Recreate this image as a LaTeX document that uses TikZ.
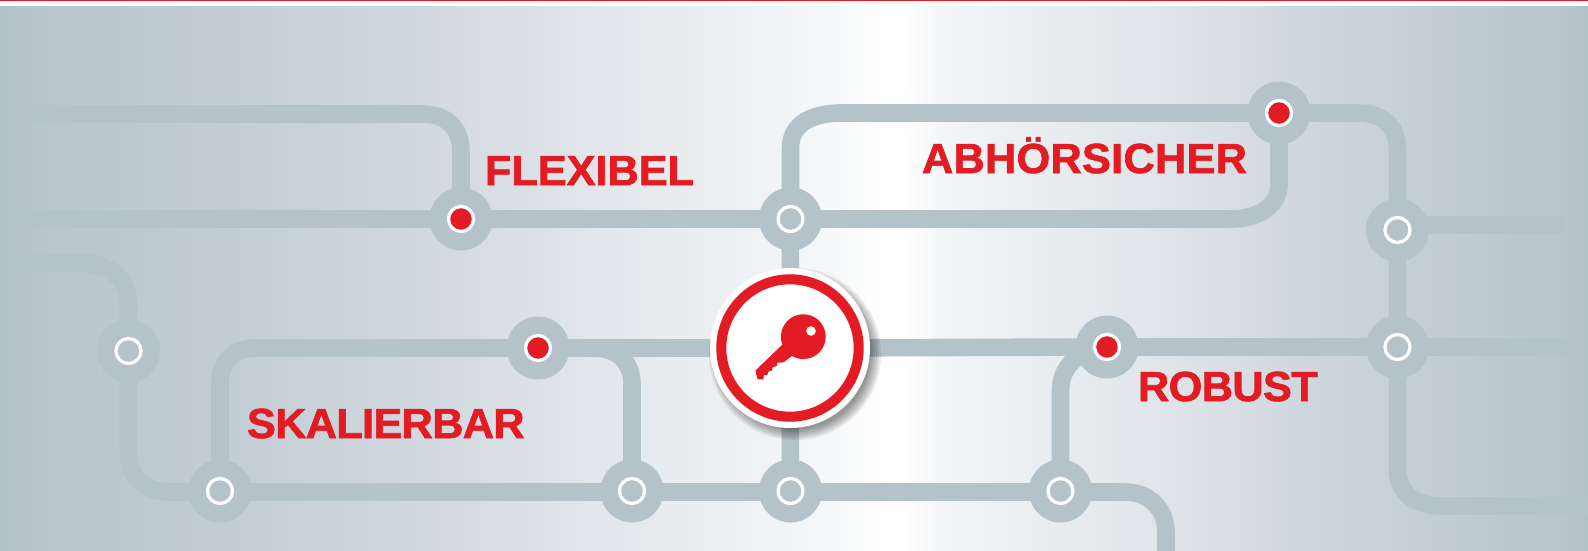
\documentclass[tikz,border=0pt]{standalone}
\usepackage{fontspec}
\usetikzlibrary{calc}
\newfontfamily\labfont{Liberation Sans}[BoldFeatures={FakeBold=1.6,FakeStretch=1.03}]
\definecolor{rail}{HTML}{B4C2CA}
\definecolor{signal}{HTML}{E31B23}
\pgfdeclarehorizontalshading{bgshade}{100bp}{%
 rgb(0bp)=(.702,.757,.788);
 rgb(25bp)=(.702,.757,.788);
 rgb(26.9bp)=(.725,.776,.804);
 rgb(32.9bp)=(.769,.808,.839);
 rgb(39.2bp)=(.827,.859,.882);
 rgb(46.4bp)=(.914,.929,.941);
 rgb(50.3bp)=(.953,.961,.969);
 rgb(52.9bp)=(1,1,1);
 rgb(53.5bp)=(1,1,1);
 rgb(54.6bp)=(.953,.961,.969);
 rgb(62.8bp)=(.859,.886,.902);
 rgb(66bp)=(.812,.843,.871);
 rgb(70.7bp)=(.757,.8,.827);
 rgb(74.3bp)=(.718,.769,.8);
 rgb(75bp)=(.698,.753,.784);
 rgb(100bp)=(.698,.753,.784)}
\tikzset{
 railline/.style={draw=rail,line width=17.6pt,line cap=butt,line join=round},
 hub/.style={circle,fill=rail,inner sep=0pt,outer sep=0pt,minimum size=63pt},
 ringopen/.style={circle,draw=white,line width=3.3pt,fill=none,inner sep=0pt,outer sep=0pt,minimum size=25pt},
 ringred/.style={ringopen,fill=signal},
 caption/.style={anchor=base west,inner sep=0pt,outer sep=0pt,text=signal,font=\labfont\bfseries\fontsize{42pt}{42pt}\selectfont},
 keydisc/.style={circle,fill=white,inner sep=0pt,outer sep=0pt,minimum size=160pt},
 keyring/.style={circle,draw=signal,line width=10pt,fill=white,inner sep=0pt,outer sep=0pt,minimum size=137.4pt}
}
\begin{document}
\begin{tikzpicture}[x=1pt,y=-1pt]
\useasboundingbox (0,0) rectangle (1588,551);
\fill[white] (0,0) rectangle (1588,7);
\fill[signal] (0,0) rectangle (1588,1);
\shade[shading=bgshade] (0,7) rectangle (1588,551);
% named positions
\coordinate (k) at (790,348);
\coordinate (n1) at (461,219);
\coordinate (n2) at (790.5,219);
\coordinate (n3) at (1279,113);
\coordinate (n4) at (1397.5,230);
\coordinate (n5) at (1397.5,347);
\coordinate (m1) at (128.5,351);
\coordinate (m2) at (538,348);
\coordinate (m3) at (1107,347);
\coordinate (b1) at (220,491);
\coordinate (b2) at (632,491);
\coordinate (b3) at (790.5,491);
\coordinate (b4) at (1060.5,491);
\coordinate (e1) at (10,114);
\coordinate (e2) at (10,219);
\coordinate (e3) at (10,263);
\coordinate (e4) at (1566,225);
\coordinate (e5) at (1569,347);
\coordinate (e6) at (1588,506);
\coordinate (e7) at (1166,551);
% rails
\draw[railline] (e1) -- (422,114) .. controls (447,114) and (461,128) .. (461,152) -- (n1);
\draw[railline] (e2) -- (n1) -- (n2) -- (1232,219) .. controls (1256,219) and (1279,207) .. (1279,185) -- (n3);
\draw[railline] (n2) -- (790.5,148) .. controls (790.5,125) and (810,113) .. (842,113) -- (n3);
\draw[railline] (n3) -- (1358,113) .. controls (1385,113) and (1397.5,128) .. (1397.5,150) -- (n4) -- (n5) -- (1397.5,467) .. controls (1397.5,495) and (1415,506) .. (1445,506) -- (e6);
\draw[railline] (n4 |- e4) -- (e4);
\draw[railline] (n5) -- (e5);
\draw[railline] (e3) -- (80,263) .. controls (112,263) and (128.5,280) .. (128.5,307) -- (m1) -- (128.5,453) .. controls (128.5,478) and (145,492) .. (170,492) -- (220,492);
\draw[railline] (b1) -- (220,382) .. controls (220,362) and (234,348) .. (255,348) -- (m2) -- (k) -- (m3) -- (n5);
\draw[railline] (m2) -- (593,348) .. controls (618,348) and (632,362) .. (632,385) -- (b2);
\draw[railline] (220,492) -- (1125,492) .. controls (1150,492) and (1166,510) .. (1166,532) -- (e7);
\draw[railline] (n2) -- (k) -- (b3);
\draw[railline] (b4) -- (1060.5,390) .. controls (1060.5,370) and (1075,350) .. (m3);
% stations
\foreach \p/\kind in {n1/ringred,n2/ringopen,n3/ringred,n4/ringopen,n5/ringopen,m1/ringopen,m2/ringred,m3/ringred,b1/ringopen,b2/ringopen,b3/ringopen,b4/ringopen}{
 \node[hub] (\p-hub) at (\p) {};
 \node[\kind] (\p-ring) at (\p) {};
}
% key badge shadow
\foreach \r in {86,84,82,80,78,76}{
 \fill[black,opacity=.08] ($(k)+(5,6)$) circle (\r pt);
}
\node[keydisc] (kd) at (k) {};
\node[keyring] (kr) at (k) {};
% key glyph
\begin{scope}[shift={(680,240)},x=.3333pt,y=-.3333pt]
 \fill[signal] (370,290) circle (22.4pt);
 \fill[signal] (308,313) -- (226,392) -- (233,418) -- (250,418) -- (252,405) -- (262,405) -- (265,395) -- (275,392) -- (278,382) -- (290,378) -- (292,368) -- (303,368) -- (312,366) -- (340,345) -- cycle;
 \fill[white] (393,273) circle (4.8pt);
\end{scope}
% captions
\node[caption] (t1) at (485,185) {FLEXIBEL};
\node[caption] (t2) at (922,173) {\addfontfeature{LetterSpace=.7}ABHÖRSICHER};
\node[caption] (t3) at (1138,401) {\addfontfeature{LetterSpace=-1.4}ROBUST};
\node[caption] (t4) at (247,438) {\addfontfeature{LetterSpace=-1.6}SKALIERBAR};
\end{tikzpicture}
\end{document}
